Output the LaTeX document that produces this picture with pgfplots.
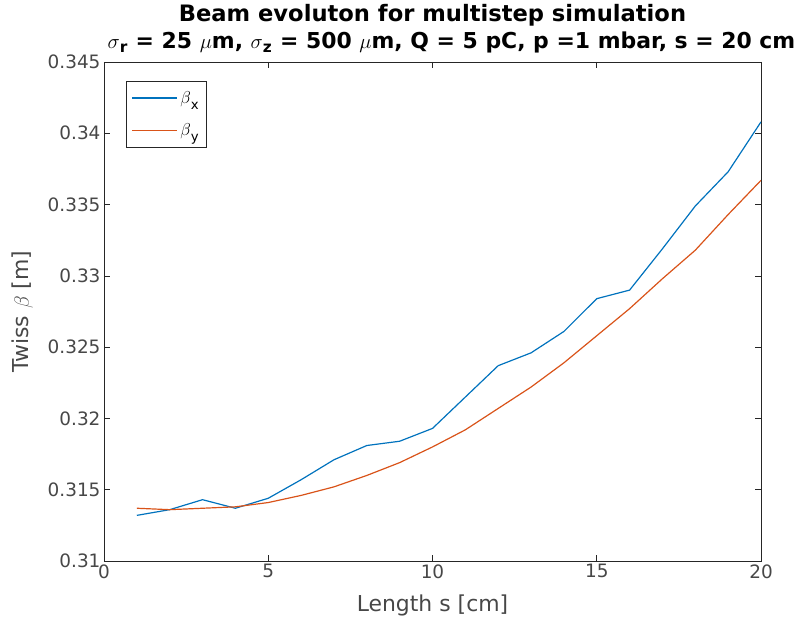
\documentclass[border=0pt]{standalone}
\usepackage{pgfplots}
\pgfplotsset{compat=1.18}
\usepackage{fontspec}
\setmainfont{DejaVu Sans}
\definecolor{mblue}{rgb}{0,0.447,0.741}
\definecolor{morange}{rgb}{0.850,0.325,0.098}
\definecolor{axgray}{rgb}{0.15,0.15,0.15}
\begin{document}
\begin{tikzpicture}
\begin{axis}[
  scale only axis,
  width=657bp, height=499bp,
  xmin=0, xmax=20, ymin=0.31, ymax=0.345,
  xtick={0,5,10,15,20},
  ytick={0.31,0.315,0.32,0.325,0.33,0.335,0.34,0.345},
  yticklabels={0.31,0.315,0.32,0.325,0.33,0.335,0.34,0.345},
  scaled y ticks=false,
  tick align=inside, tick pos=both,
  major tick length=6bp,
  axis line style={axgray, line width=0.6pt},
  every tick/.style={axgray, line width=0.6pt},
  /pgf/number format/assume math mode=true,
  tick label style={font=\fontsize{18.5}{20}\selectfont, text=axgray!85},
  label style={font=\fontsize{22}{24}\selectfont, text=axgray!85},
  xlabel style={yshift=-10bp},
  ylabel style={yshift=8bp},
  xlabel={Length s [cm]},
  ylabel={Twiss $\beta$ [m]},
  title style={font=\bfseries\fontsize{22}{28}\selectfont, align=center, yshift=-1bp},
  title={{\fontsize{22.7}{28}\selectfont Beam evoluton for multistep simulation}\\\hspace*{38bp}$\sigma$\textsubscript{r} = 25 $\mu$m, $\sigma$\textsubscript{z} = 500 $\mu$m, Q = 5 pC, p =1 mbar, s = 20 cm},
  legend style={at={(0.034,0.962)}, anchor=north west, draw=axgray, line width=0.6pt,
    font=\fontsize{19}{21}\selectfont, inner xsep=5bp, inner ysep=8bp, row sep=15bp},
  legend cell align=left,
  legend image code/.code={\draw[#1, line width=1.7pt] (0bp,0bp) -- (45bp,0bp);},
]
\addplot[mblue, line width=1.2pt] coordinates {
(1,0.3132) (2,0.3136) (3,0.3143) (4,0.3137) (5,0.3144) (6,0.3157) (7,0.3171)
(8,0.3181) (9,0.3184) (10,0.3193) (11,0.3215) (12,0.3237) (13,0.3246) (14,0.3261)
(15,0.3284) (16,0.3290) (17,0.3319) (18,0.3349) (19,0.3373) (20,0.3408)};
\addlegendentry{$\beta$\raisebox{-0.35ex}{\textsubscript{x}}}
\addplot[morange, line width=1.2pt] coordinates {
(1,0.3137) (2,0.3136) (3,0.3137) (4,0.3138) (5,0.3141) (6,0.3146) (7,0.3152)
(8,0.3160) (9,0.3169) (10,0.3180) (11,0.3192) (12,0.3207) (13,0.3222) (14,0.3239)
(15,0.3258) (16,0.3277) (17,0.3298) (18,0.3318) (19,0.3343) (20,0.3367)};
\addlegendentry{$\beta$\raisebox{-0.35ex}{\textsubscript{y}}}
\end{axis}
\path ([shift={(-104bp,-70bp)}]current axis.south west) rectangle ([shift={(39bp,62bp)}]current axis.north east);
\end{tikzpicture}
\end{document}
